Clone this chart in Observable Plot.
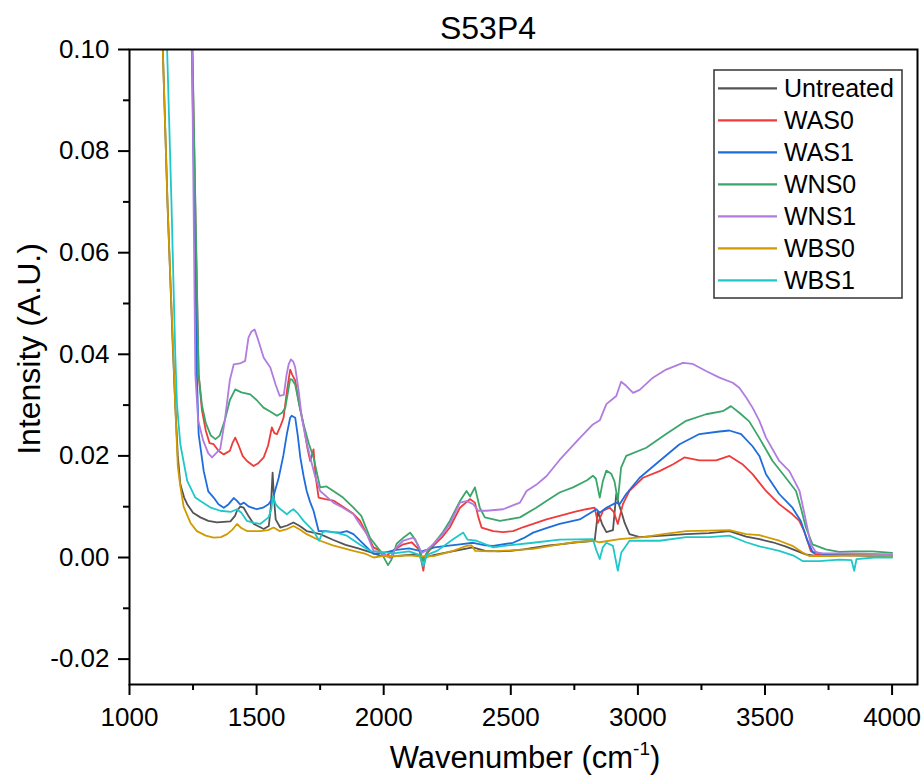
<!DOCTYPE html>
<html><head><meta charset="utf-8">
<script src="https://cdn.jsdelivr.net/npm/d3@7"></script>
<script src="https://cdn.jsdelivr.net/npm/@observablehq/plot@0.6"></script>
<style>
body{margin:0;background:#fff;}
#chart{font-family:"Liberation Sans",Arial,sans-serif;}
</style>
</head><body><div id="chart"></div>
<script>
const titleText = "S53P4";
const xLabel = "Wavenumber (cm";
const xLabelSup = "-1";
const yLabel = "Intensity (A.U.)";
const seriesNames = ["Untreated","WAS0","WAS1","WNS0","WNS1","WBS0","WBS1"];
const seriesColors = ["#545454","#ee3b3b","#1f6ddd","#3aa66a","#b07ce0","#d09a00","#1ec8c8"];
const xTicks = [1000,1500,2000,2500,3000,3500,4000];
const xMinorTicks = [1250,1750,2250,2750,3250,3750];
const yTicks = [-0.02,0,0.02,0.04,0.06,0.08,0.10];
const yMinorTicks = [-0.01,0.01,0.03,0.05,0.07,0.09];

const untreated = [[1125,0.13],[1131,0.10],[1150,0.069],[1170,0.042],[1180,0.030],[1190,0.020],[1200,0.0144],[1215,0.0118],[1227,0.0105],[1250,0.0088],[1279,0.0079],[1310,0.0072],[1344,0.0069],[1397,0.0071],[1415,0.0082],[1423,0.0092],[1435,0.0100],[1449,0.0098],[1470,0.0080],[1489,0.0066],[1528,0.0056],[1548,0.0062],[1556,0.0100],[1563,0.0167],[1568,0.012],[1575,0.0075],[1593,0.0059],[1620,0.0063],[1645,0.0069],[1670,0.0062],[1697,0.0052],[1750,0.0046],[1800,0.0035],[1850,0.0025],[1900,0.0018],[1950,0.0010],[1990,0.0003],[2030,0.0002],[2080,0.0004],[2120,0.0006],[2160,0.0000],[2200,0.0005],[2250,0.0010],[2300,0.0015],[2350,0.0020],[2400,0.0013],[2450,0.0012],[2500,0.0013],[2550,0.0016],[2600,0.0020],[2650,0.0024],[2692,0.0026],[2760,0.0030],[2830,0.0033],[2843,0.0090],[2860,0.0065],[2876,0.0050],[2902,0.0054],[2915,0.0125],[2925,0.0105],[2935,0.0090],[2948,0.0068],[2967,0.0046],[3007,0.0040],[3100,0.0043],[3190,0.0046],[3280,0.0048],[3360,0.0052],[3426,0.0041],[3478,0.0036],[3530,0.0030],[3580,0.0022],[3630,0.0012],[3660,0.0006],[3700,0.0003],[3800,0.0004],[3900,0.0004],[4000,0.0003]];

const was0 = [[1240,0.12],[1247,0.10],[1255,0.08],[1262,0.06],[1272,0.036],[1285,0.029],[1300,0.025],[1315,0.0225],[1331,0.0223],[1350,0.021],[1371,0.0203],[1395,0.021],[1405,0.0225],[1416,0.0236],[1430,0.022],[1445,0.020],[1462,0.019],[1488,0.018],[1505,0.0185],[1528,0.0197],[1545,0.022],[1560,0.0256],[1570,0.0245],[1580,0.0243],[1595,0.026],[1606,0.0275],[1620,0.033],[1632,0.037],[1640,0.036],[1652,0.0348],[1668,0.030],[1685,0.026],[1700,0.0215],[1711,0.019],[1720,0.0205],[1724,0.0213],[1732,0.016],[1744,0.0118],[1770,0.0115],[1802,0.0112],[1840,0.010],[1881,0.0086],[1907,0.0072],[1930,0.005],[1960,0.002],[1986,0.0013],[2010,0.0003],[2040,0.0015],[2077,0.0026],[2110,0.0030],[2140,0.0015],[2156,-0.0026],[2165,0.0005],[2195,0.0023],[2230,0.004],[2260,0.0059],[2300,0.0098],[2339,0.0115],[2359,0.0108],[2372,0.008],[2385,0.0059],[2431,0.0052],[2470,0.0050],[2509,0.0052],[2550,0.006],[2588,0.0066],[2640,0.0075],[2692,0.0082],[2750,0.009],[2797,0.0095],[2830,0.0098],[2843,0.0068],[2863,0.0092],[2889,0.0098],[2905,0.009],[2921,0.0066],[2941,0.0105],[2967,0.0131],[3020,0.0157],[3085,0.017],[3137,0.0183],[3183,0.0197],[3242,0.0191],[3308,0.0191],[3360,0.020],[3413,0.0183],[3451,0.0164],[3504,0.0131],[3556,0.0105],[3608,0.0085],[3635,0.0072],[3654,0.0052],[3680,0.0013],[3700,0.0006],[3800,0.0005],[3900,0.0004],[4000,0.0002]];

const was1 = [[1235,0.13],[1245,0.10],[1252,0.08],[1260,0.055],[1265,0.036],[1272,0.0243],[1292,0.017],[1310,0.013],[1331,0.0118],[1350,0.0105],[1371,0.0098],[1390,0.0105],[1410,0.0117],[1422,0.0112],[1436,0.0104],[1450,0.0108],[1470,0.0100],[1501,0.0095],[1525,0.0098],[1547,0.0105],[1565,0.0118],[1587,0.0157],[1605,0.020],[1619,0.0243],[1632,0.0275],[1638,0.0279],[1652,0.0275],[1662,0.024],[1672,0.0197],[1685,0.016],[1697,0.0131],[1710,0.011],[1724,0.0092],[1744,0.0052],[1770,0.0052],[1800,0.0050],[1830,0.0049],[1855,0.0052],[1881,0.0046],[1907,0.0033],[1934,0.002],[1960,0.0007],[1990,0.0008],[2050,0.0015],[2100,0.0018],[2150,0.0012],[2200,0.002],[2248,0.0023],[2300,0.0026],[2352,0.0029],[2400,0.0024],[2431,0.0023],[2509,0.0029],[2550,0.0038],[2588,0.0049],[2640,0.0058],[2692,0.0066],[2771,0.0075],[2837,0.0095],[2850,0.0088],[2876,0.0098],[2915,0.0108],[2928,0.0105],[2954,0.0125],[3007,0.0157],[3085,0.019],[3164,0.0223],[3242,0.0243],[3321,0.0248],[3360,0.025],[3406,0.0243],[3451,0.0219],[3478,0.020],[3504,0.0164],[3556,0.0125],[3608,0.0098],[3641,0.0072],[3667,0.0033],[3687,0.0011],[3750,0.0005],[3850,0.0004],[4000,0.0003]];

const wns0 = [[1238,0.13],[1248,0.10],[1255,0.08],[1263,0.06],[1272,0.036],[1285,0.030],[1300,0.0265],[1320,0.0240],[1338,0.0233],[1355,0.024],[1375,0.027],[1395,0.031],[1416,0.0331],[1440,0.0325],[1475,0.0321],[1500,0.031],[1527,0.0295],[1555,0.0287],[1580,0.0279],[1600,0.0285],[1613,0.0295],[1625,0.033],[1632,0.0351],[1640,0.035],[1652,0.034],[1668,0.030],[1685,0.0262],[1705,0.0225],[1724,0.0197],[1740,0.0160],[1750,0.0138],[1775,0.0140],[1802,0.0131],[1840,0.0118],[1881,0.0098],[1912,0.0082],[1946,0.0039],[1986,0.0013],[2017,-0.0015],[2030,-0.0005],[2051,0.0027],[2080,0.0040],[2104,0.0049],[2125,0.0035],[2143,0.0013],[2155,-0.0007],[2170,0.0010],[2195,0.0026],[2230,0.0048],[2260,0.0072],[2300,0.0111],[2326,0.0131],[2340,0.0120],[2359,0.0138],[2378,0.0098],[2398,0.0079],[2457,0.0072],[2536,0.0079],[2600,0.0098],[2640,0.0111],[2692,0.0128],[2745,0.0138],[2800,0.0152],[2823,0.0161],[2835,0.0155],[2850,0.0118],[2862,0.015],[2876,0.0171],[2895,0.0165],[2908,0.0150],[2921,0.0112],[2934,0.0177],[2954,0.020],[3033,0.0216],[3111,0.0243],[3190,0.0269],[3268,0.0282],[3334,0.0288],[3366,0.0298],[3399,0.0285],[3438,0.0268],[3478,0.0235],[3530,0.019],[3582,0.0157],[3622,0.0131],[3641,0.0098],[3661,0.0059],[3687,0.0026],[3739,0.0016],[3792,0.0011],[3850,0.0012],[3923,0.0012],[4000,0.0009]];

const wns1 = [[1234,0.13],[1246,0.10],[1252,0.07],[1259,0.036],[1270,0.027],[1290,0.023],[1310,0.0205],[1325,0.0197],[1340,0.0205],[1357,0.0214],[1375,0.027],[1395,0.035],[1410,0.038],[1435,0.0382],[1455,0.0387],[1468,0.0433],[1480,0.0445],[1492,0.0449],[1505,0.043],[1528,0.0393],[1554,0.0374],[1575,0.034],[1591,0.0318],[1607,0.032],[1618,0.036],[1626,0.038],[1635,0.039],[1645,0.0385],[1652,0.0374],[1665,0.033],[1678,0.0275],[1695,0.023],[1711,0.0197],[1730,0.016],[1750,0.0131],[1802,0.0108],[1840,0.0098],[1881,0.0085],[1907,0.0065],[1934,0.0046],[1960,0.0013],[1986,0.0010],[2025,-0.0001],[2050,0.002],[2077,0.0033],[2117,0.0039],[2135,0.0025],[2150,0.0009],[2170,0.0015],[2195,0.0026],[2230,0.0045],[2260,0.0066],[2300,0.0108],[2326,0.0111],[2352,0.0105],[2372,0.0092],[2404,0.0092],[2470,0.0095],[2536,0.0108],[2562,0.0131],[2600,0.0143],[2640,0.016],[2692,0.0192],[2771,0.0235],[2823,0.0262],[2850,0.027],[2876,0.0302],[2915,0.0318],[2934,0.0346],[2954,0.0338],[2981,0.0324],[3007,0.033],[3059,0.0354],[3111,0.037],[3177,0.0383],[3216,0.0381],[3268,0.0367],[3321,0.0354],[3373,0.0344],[3399,0.0334],[3426,0.0315],[3451,0.0295],[3478,0.0269],[3504,0.0236],[3556,0.019],[3596,0.017],[3636,0.0131],[3661,0.0072],[3680,0.0026],[3700,0.0011],[3720,0.0008],[3850,0.0008],[4000,0.0006]];

const wbs0 = [[1120,0.13],[1131,0.10],[1150,0.069],[1170,0.043],[1180,0.030],[1190,0.018],[1200,0.0140],[1213,0.0100],[1240,0.0068],[1265,0.0052],[1300,0.0043],[1331,0.0039],[1360,0.0040],[1384,0.0046],[1405,0.0055],[1423,0.0066],[1440,0.0058],[1462,0.0052],[1514,0.0052],[1545,0.0054],[1567,0.0059],[1590,0.0052],[1620,0.0056],[1645,0.0062],[1670,0.0055],[1697,0.0046],[1750,0.0033],[1800,0.0024],[1881,0.0013],[1930,0.0007],[1960,0.0000],[2000,0.0003],[2050,0.0003],[2100,0.0004],[2150,0.0002],[2200,0.0003],[2273,0.0013],[2326,0.0023],[2345,0.0024],[2360,0.0013],[2420,0.0012],[2500,0.0014],[2588,0.0017],[2692,0.0026],[2750,0.003],[2823,0.0033],[2850,0.003],[2928,0.0036],[3020,0.004],[3100,0.0046],[3190,0.0052],[3280,0.0053],[3360,0.0054],[3426,0.0046],[3478,0.0044],[3556,0.0033],[3608,0.0023],[3648,0.001],[3674,0.0003],[3750,0.0003],[3850,0.0004],[4000,0.0003]];

const wbs1 = [[1137,0.13],[1148,0.10],[1165,0.070],[1180,0.040],[1187,0.030],[1200,0.0223],[1227,0.0151],[1259,0.0118],[1279,0.0111],[1320,0.0098],[1357,0.0092],[1400,0.0090],[1423,0.0095],[1440,0.0088],[1462,0.0072],[1490,0.0068],[1514,0.0066],[1547,0.0079],[1558,0.0095],[1564,0.0121],[1575,0.0105],[1587,0.0098],[1619,0.0085],[1635,0.0092],[1645,0.0095],[1660,0.0088],[1685,0.0072],[1724,0.0052],[1746,0.0033],[1760,0.0050],[1776,0.0052],[1820,0.0048],[1855,0.0043],[1907,0.0025],[1950,0.0012],[1990,0.0011],[2040,0.0008],[2100,0.0012],[2140,0.0005],[2156,-0.0017],[2170,0.0005],[2210,0.0013],[2273,0.0036],[2313,0.0049],[2330,0.0035],[2365,0.0033],[2431,0.002],[2509,0.0025],[2588,0.0029],[2692,0.0035],[2823,0.0036],[2836,0.0015],[2850,-0.0003],[2862,0.002],[2876,0.0029],[2902,0.0023],[2921,-0.0026],[2935,0.001],[2967,0.0033],[3085,0.0033],[3190,0.004],[3280,0.004],[3360,0.0043],[3426,0.003],[3478,0.0022],[3556,0.0013],[3615,0.0003],[3648,-0.0007],[3713,-0.0007],[3792,-0.0004],[3840,-0.0005],[3851,-0.0026],[3860,-0.0003],[3930,0.0],[4000,0.0]];

const seriesData = [untreated, was0, was1, wns0, wns1, wbs0, wbs1];
const rows = seriesNames.flatMap((name, i) => seriesData[i].map(([w, v]) => ({name, w, v})));

const font = "'Liberation Sans', Arial, sans-serif";
const svg = Plot.plot({
  width: 924, height: 778,
  marginLeft: 129, marginRight: 7, marginTop: 49, marginBottom: 94,
  x: {domain: [1000, 4100]},
  y: {domain: [-0.025, 0.10]},
  color: {domain: seriesNames, range: seriesColors},
  style: {fontFamily: font, fontSize: "26px", color: "#000", background: "#fff"},
  marks: [
    Plot.line(rows, {x: "w", y: "v", z: "name", stroke: "name", strokeWidth: 1.8, clip: true}),
    Plot.frame({stroke: "#000", strokeWidth: 2}),
    Plot.axisX({ticks: xTicks, tickSize: 11, tickPadding: 12, tickFormat: d => String(d), label: null, strokeWidth: 2}),
    Plot.axisX({ticks: xMinorTicks, tickSize: 6, tickFormat: () => "", label: null, strokeWidth: 2}),
    Plot.axisY({ticks: yTicks, tickSize: 11, tickPadding: 9, tickFormat: d => d.toFixed(2), label: null, strokeWidth: 2}),
    Plot.axisY({ticks: yMinorTicks, tickSize: 6, tickFormat: () => "", label: null, strokeWidth: 2})
  ]
});

const s = d3.select(svg);
s.append("text").attr("x", 488).attr("y", 39).attr("text-anchor", "middle")
  .attr("font-size", 32).attr("font-family", font).attr("fill", "#000").text(titleText);
s.append("text").attr("transform", "translate(40,349) rotate(-90)").attr("text-anchor", "middle")
  .attr("font-size", 32).attr("font-family", font).attr("fill", "#000").text(yLabel);
const xl = s.append("text").attr("x", 525).attr("y", 768).attr("text-anchor", "middle")
  .attr("font-size", 31).attr("font-family", font).attr("fill", "#000");
xl.append("tspan").text(xLabel);
xl.append("tspan").attr("font-size", 19).attr("dy", -13).text(xLabelSup);
xl.append("tspan").attr("dy", 13).text(")");

const lg = s.append("g");
lg.append("rect").attr("x", 714).attr("y", 70).attr("width", 188).attr("height", 228)
  .attr("fill", "#fff").attr("stroke", "#333").attr("stroke-width", 1.5);
seriesNames.forEach((n, i) => {
  const y = 88.3 + 32 * i;
  lg.append("line").attr("x1", 718).attr("x2", 777).attr("y1", y).attr("y2", y)
    .attr("stroke", seriesColors[i]).attr("stroke-width", 2.2);
  lg.append("text").attr("x", 784).attr("y", y).attr("dy", "0.36em").attr("text-anchor", "start")
    .attr("font-size", 25).attr("font-family", font).attr("fill", "#000").text(n);
});

document.getElementById("chart").appendChild(svg);
</script>
</body></html>
